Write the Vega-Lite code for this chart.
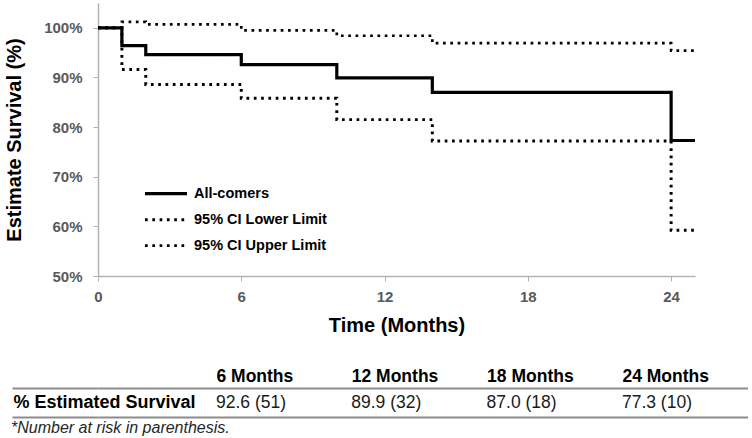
{
  "$schema": "https://vega.github.io/schema/vega-lite/v6.json",
  "padding": {"left": 4, "top": 3, "right": 0, "bottom": 0},
  "config": {
    "font": "Liberation Sans",
    "view": {"stroke": null}
  },
  "spacing": 32,
  "vconcat": [
    {
      "width": 597,
      "height": 273,
      "data": {
        "values": [
          {"series": "95% CI Lower Limit", "month": 0, "survival": 100},
          {"series": "95% CI Lower Limit", "month": 1, "survival": 91.6},
          {"series": "95% CI Lower Limit", "month": 2, "survival": 88.6},
          {"series": "95% CI Lower Limit", "month": 6, "survival": 85.8},
          {"series": "95% CI Lower Limit", "month": 10, "survival": 81.5},
          {"series": "95% CI Lower Limit", "month": 14, "survival": 77.2},
          {"series": "95% CI Lower Limit", "month": 24, "survival": 59.2},
          {"series": "95% CI Lower Limit", "month": 25, "survival": 59.2},
          {"series": "95% CI Upper Limit", "month": 0, "survival": 100},
          {"series": "95% CI Upper Limit", "month": 1, "survival": 101.2},
          {"series": "95% CI Upper Limit", "month": 2, "survival": 100.7},
          {"series": "95% CI Upper Limit", "month": 6, "survival": 99.5},
          {"series": "95% CI Upper Limit", "month": 10, "survival": 98.4},
          {"series": "95% CI Upper Limit", "month": 14, "survival": 96.9},
          {"series": "95% CI Upper Limit", "month": 24, "survival": 95.4},
          {"series": "95% CI Upper Limit", "month": 25, "survival": 95.4},
          {"series": "All-comers", "month": 0, "survival": 100},
          {"series": "All-comers", "month": 1, "survival": 96.4},
          {"series": "All-comers", "month": 2, "survival": 94.6},
          {"series": "All-comers", "month": 6, "survival": 92.6},
          {"series": "All-comers", "month": 10, "survival": 89.9},
          {"series": "All-comers", "month": 14, "survival": 87.0},
          {"series": "All-comers", "month": 24, "survival": 77.3},
          {"series": "All-comers", "month": 25, "survival": 77.3}
        ]
      },
      "mark": {"type": "line", "interpolate": "step-after", "strokeCap": "butt", "color": "black"},
      "encoding": {
        "x": {
          "field": "month",
          "type": "quantitative",
          "scale": {"domain": [0, 25], "nice": false, "zero": false},
          "axis": {
            "values": [0, 6, 12, 18, 24],
            "title": "Time (Months)",
            "titleFontSize": 20,
            "titleFontWeight": "bold",
            "titleColor": "black",
            "titlePadding": 11,
            "labelFontSize": 15,
            "labelFontWeight": "bold",
            "labelColor": "#595959",
            "labelPadding": 8,
            "labelFlush": false,
            "tickSize": 5,
            "tickColor": "#b3b3b3",
            "domainColor": "#b3b3b3",
            "domainWidth": 1.5,
            "grid": false
          }
        },
        "y": {
          "field": "survival",
          "type": "quantitative",
          "scale": {"domain": [50, 105], "nice": false, "zero": false},
          "axis": {
            "values": [50, 60, 70, 80, 90, 100],
            "labelExpr": "datum.value + '%'",
            "title": "Estimate Survival (%)",
            "titleFontSize": 20,
            "titleFontWeight": "bold",
            "titleColor": "black",
            "titlePadding": 19,
            "labelFontSize": 15,
            "labelFontWeight": "bold",
            "labelColor": "#595959",
            "labelPadding": 11,
            "tickSize": 5,
            "tickColor": "#b3b3b3",
            "domainColor": "#b3b3b3",
            "domainWidth": 1.5,
            "grid": false
          }
        },
        "strokeDash": {
          "field": "series",
          "type": "nominal",
          "scale": {
            "domain": ["All-comers", "95% CI Lower Limit", "95% CI Upper Limit"],
            "range": [[1, 0], [2.7, 4.6], [2.7, 4.6]]
          },
          "legend": {
            "orient": "none",
            "legendX": 45,
            "legendY": 178,
            "title": null,
            "symbolType": "stroke",
            "symbolSize": 1764,
            "symbolStrokeColor": "black",
            "clipHeight": 25.4,
            "rowPadding": 0,
            "padding": 0,
            "labelOffset": 5,
            "labelFontSize": 14.5,
            "labelFontWeight": "bold",
            "labelColor": "black"
          }
        },
        "strokeWidth": {
          "field": "series",
          "type": "nominal",
          "scale": {
            "domain": ["All-comers", "95% CI Lower Limit", "95% CI Upper Limit"],
            "range": [3.2, 2.7, 2.7]
          }
        }
      }
    },
    {
      "width": 650,
      "height": 29.3,
      "data": {
        "values": [
          {"measure": "% Estimated Survival", "month": 6, "estimate": 92.6, "at_risk": 51},
          {"measure": "% Estimated Survival", "month": 12, "estimate": 89.9, "at_risk": 32},
          {"measure": "% Estimated Survival", "month": 18, "estimate": 87.0, "at_risk": 18},
          {"measure": "% Estimated Survival", "month": 24, "estimate": 77.3, "at_risk": 10}
        ]
      },
      "title": {
        "text": "*Number at risk in parenthesis.",
        "orient": "bottom",
        "anchor": "start",
        "frame": "bounds",
        "fontSize": 16,
        "fontStyle": "italic",
        "fontWeight": "normal",
        "color": "#262626",
        "offset": 2
      },
      "transform": [
        {"calculate": "format(datum.estimate, '.1f') + ' (' + datum.at_risk + ')'", "as": "cell"}
      ],
      "mark": {"type": "text", "align": "left", "baseline": "middle", "fontSize": 17.5, "color": "#1a1a1a"},
      "encoding": {
        "x": {
          "field": "month",
          "type": "quantitative",
          "scale": {"domain": [0.77, 29.59], "nice": false, "zero": false},
          "axis": {
            "orient": "top",
            "values": [6, 12, 18, 24],
            "labelExpr": "datum.value + ' Months'",
            "labelAlign": "left",
            "labelFlush": false,
            "ticks": false,
            "domain": false,
            "grid": false,
            "labelPadding": 3,
            "labelFontSize": 17.5,
            "labelFontWeight": "bold",
            "labelColor": "black",
            "title": null
          }
        },
        "y": {
          "field": "measure",
          "type": "nominal",
          "scale": {"type": "band", "paddingInner": 0, "paddingOuter": 0},
          "axis": {
            "bandPosition": 1,
            "tickExtra": true,
            "ticks": true,
            "tickSize": 86,
            "tickColor": "#8c8c8c",
            "tickWidth": 2,
            "grid": true,
            "gridColor": "#8c8c8c",
            "gridWidth": 2,
            "domain": false,
            "labelAlign": "left",
            "labelBaseline": "middle",
            "labelPadding": -1,
            "labelOffset": 0,
            "labelLimit": 400,
            "labelFontSize": 18,
            "labelFontWeight": "bold",
            "labelColor": "black",
            "title": null
          }
        },
        "text": {"field": "cell"}
      }
    }
  ]
}
